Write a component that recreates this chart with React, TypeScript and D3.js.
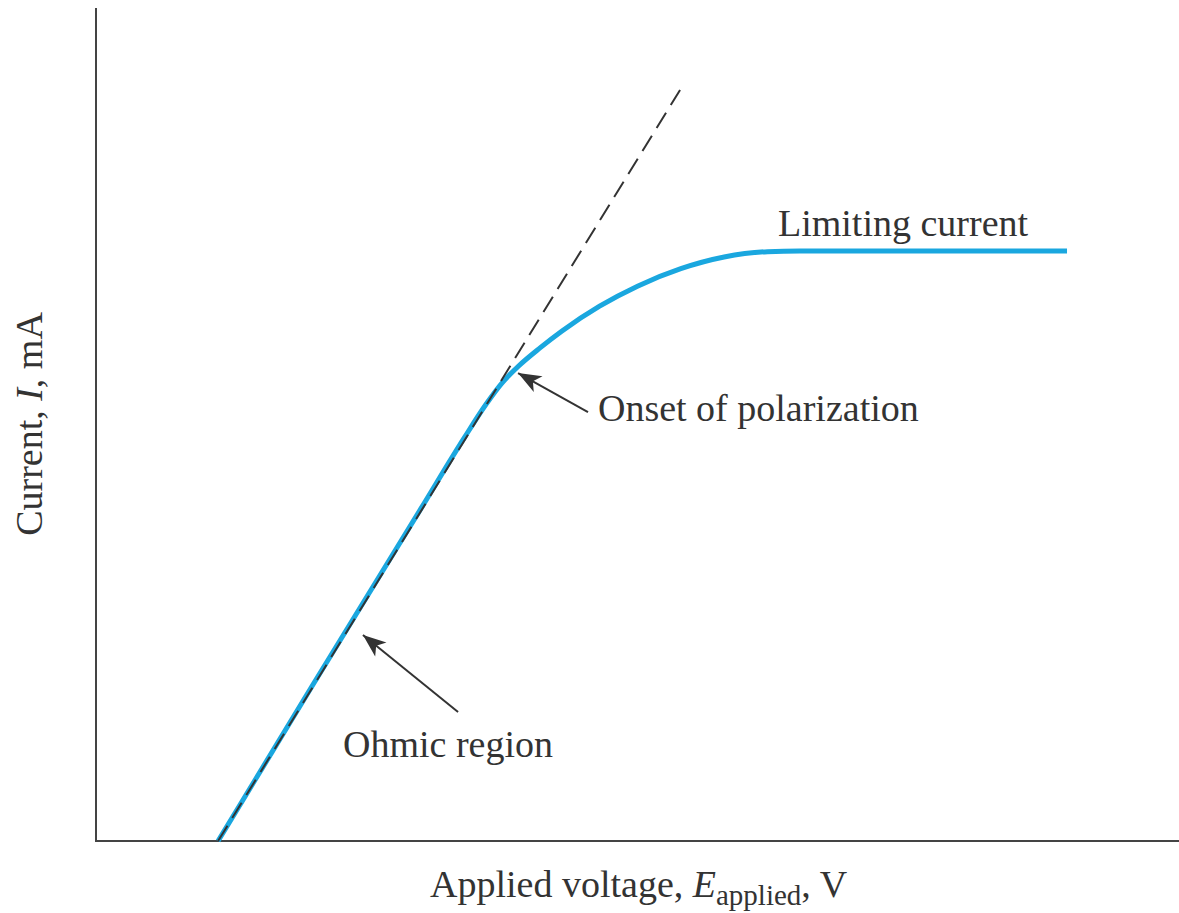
import React from "react";
import * as d3 from "d3";

// Voltage (arbitrary units) and current (arbitrary units)
const curveVoltage = [1.127, 2.0, 3.0, 3.4, 3.6, 3.75, 3.9, 4.1, 4.3, 4.65, 5.0, 5.4, 5.8, 6.2, 6.5, 8.966];
const curveCurrent = [0, 1.87, 3.99, 4.84, 5.24, 5.5, 5.7, 5.92, 6.12, 6.42, 6.66, 6.87, 7.01, 7.075, 7.083, 7.083];

const ohmicVoltage = [1.127, 5.393];
const ohmicCurrent = [0, 9.016];

const annotationLabels = ["Limiting current", "Onset of polarization", "Ohmic region"];
const annotationX = [6.297, 4.635, 2.281];
const annotationY = [7.263, 5.042, 1.008];

const arrowTipX = [3.897, 2.465];
const arrowTipY = [5.618, 2.473];
const arrowTailX = [4.543, 3.343];
const arrowTailY = [5.15, 1.549];

const W = 1179;
const H = 913;
const FONT = "'Liberation Serif', 'Times New Roman', serif";
const BLUE = "#1aa7df";
const INK = "#333333";

export default function App() {
  const x = d3.scaleLinear().domain([0, 10]).range([96, 1179]);
  const y = d3.scaleLinear().domain([0, 10]).range([841, 8]);

  const curvePts = curveVoltage.map((v, i) => [v, curveCurrent[i]] as [number, number]);
  const line = d3
    .line<[number, number]>()
    .x((d) => x(d[0]))
    .y((d) => y(d[1]))
    .curve(d3.curveMonotoneX);
  const straight = d3
    .line<[number, number]>()
    .x((d) => x(d[0]))
    .y((d) => y(d[1]));
  const ohmPts = ohmicVoltage.map((v, i) => [v, ohmicCurrent[i]] as [number, number]);

  return (
    <svg
      width={W}
      height={H}
      viewBox={`0 0 ${W} ${H}`}
      style={{ position: "absolute", left: 0, top: 0, background: "#fff" }}
    >
      <defs>
        <marker
          id="head"
          markerUnits="userSpaceOnUse"
          markerWidth={30}
          markerHeight={24}
          refX={24}
          refY={12}
          orient="auto"
        >
          <path d="M24,12 L1,3 L7,12 L1,21 Z" fill={INK} />
        </marker>
      </defs>
      <rect x={0} y={0} width={W} height={H} fill="#fff" />

      {/* axes */}
      <line x1={x(0)} x2={x(0)} y1={y(10)} y2={y(0)} stroke="#444" strokeWidth={2} />
      <line x1={x(0) - 1} x2={x(10)} y1={y(0)} y2={y(0)} stroke="#444" strokeWidth={2} />

      {/* current-voltage curve */}
      <path d={line(curvePts) || ""} fill="none" stroke={BLUE} strokeWidth={5} strokeLinejoin="round" />

      {/* ohmic extrapolation */}
      <path
        d={straight(ohmPts) || ""}
        fill="none"
        stroke={INK}
        strokeWidth={2}
        strokeDasharray="18 9"
      />

      {/* annotation arrows */}
      {arrowTipX.map((tx, i) => (
        <line
          key={i}
          x1={x(arrowTailX[i])}
          y1={y(arrowTailY[i])}
          x2={x(tx)}
          y2={y(arrowTipY[i])}
          stroke={INK}
          strokeWidth={2}
          markerEnd="url(#head)"
        />
      ))}

      {/* annotation labels */}
      {annotationLabels.map((t, i) => (
        <text key={t} x={x(annotationX[i])} y={y(annotationY[i])} fontFamily={FONT} fontSize={38} fill={INK}>
          {t}
        </text>
      ))}

      {/* axis titles */}
      <text x={430} y={897} fontFamily={FONT} fontSize={38} fill={INK}>
        Applied voltage,{" "}
        <tspan fontStyle="italic">E</tspan>
        <tspan fontSize={29} dy={8}>applied</tspan>
        <tspan dy={-8}>, V</tspan>
      </text>
      <text
        transform={`translate(42,424) rotate(-90)`}
        textAnchor="middle"
        fontFamily={FONT}
        fontSize={38}
        fill={INK}
      >
        Current, <tspan fontStyle="italic">I</tspan>, mA
      </text>
    </svg>
  );
}
